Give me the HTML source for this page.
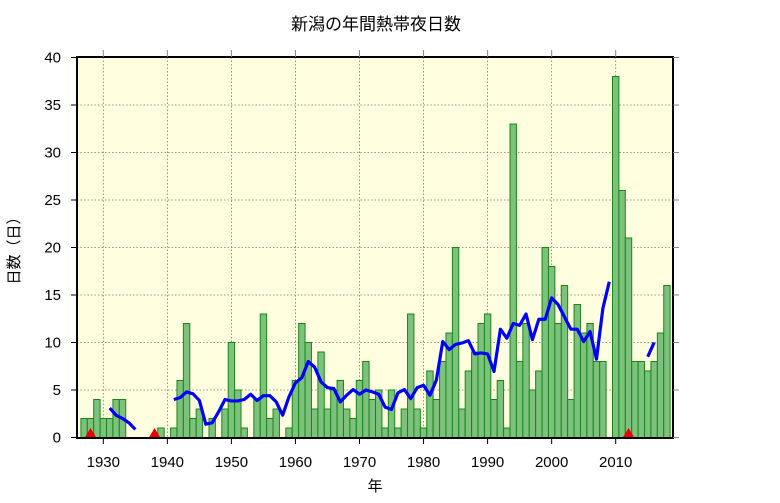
<!DOCTYPE html>
<html><head><meta charset="utf-8"><style>
body{margin:0;background:#fff;}
svg text{font-family:"Liberation Sans","Noto Sans CJK JP",sans-serif;fill:#000;}
</style></head><body>
<svg id="chart" width="780" height="498" viewBox="0 0 780 498" xmlns="http://www.w3.org/2000/svg">
<rect x="77" y="57" width="596" height="381" fill="#ffffe0"/>
<g id="grid"></g>
<g id="bars"></g>
<g id="line"></g>
<g id="marks"></g>
<rect x="77" y="57" width="596" height="381" fill="none" stroke="#000" stroke-width="2"/>
<g id="axes"></g>
<text x="376" y="30" font-size="17" text-anchor="middle">新潟の年間熱帯夜日数</text>
<text x="375" y="491" font-size="15" text-anchor="middle">年</text>
<text x="0" y="0" font-size="15" text-anchor="middle" transform="translate(19,247) rotate(-90)">日数（日）</text>
</svg>
<script>
const years = [1927,1928,1929,1930,1931,1932,1933,1934,1935,1936,1937,1938,1939,1940,1941,1942,1943,1944,1945,1946,1947,1948,1949,1950,1951,1952,1953,1954,1955,1956,1957,1958,1959,1960,1961,1962,1963,1964,1965,1966,1967,1968,1969,1970,1971,1972,1973,1974,1975,1976,1977,1978,1979,1980,1981,1982,1983,1984,1985,1986,1987,1988,1989,1990,1991,1992,1993,1994,1995,1996,1997,1998,1999,2000,2001,2002,2003,2004,2005,2006,2007,2008,2009,2010,2011,2012,2013,2014,2015,2016,2017,2018];
const counts = [2,2,4,2,2,4,4,0,0,0,0,0,1,0,1,6,12,2,3,0,2,0,3,10,5,1,0,4,13,2,3,0,1,6,12,10,3,9,3,5,6,3,2,6,8,4,5,1,5,1,3,13,3,1,7,4,8,11,20,3,7,9,12,13,4,6,1,33,8,12,5,7,20,18,12,16,4,14,11,12,8,8,0,38,26,21,8,8,7,8,11,16];
const avgSegmentYears = [[1931,1932,1933,1934,1935],[1941,1942,1943,1944,1945,1946,1947,1948,1949,1950,1951,1952,1953,1954,1955,1956,1957,1958,1959,1960,1961,1962,1963,1964,1965,1966,1967,1968,1969,1970,1971,1972,1973,1974,1975,1976,1977,1978,1979,1980,1981,1982,1983,1984,1985,1986,1987,1988,1989,1990,1991,1992,1993,1994,1995,1996,1997,1998,1999,2000,2001,2002,2003,2004,2005,2006,2007,2008,2009],[2015,2016]];
const avgSegmentValues = [[3.1,2.35,2.0,1.55,0.85],[4.0,4.2,4.8,4.6,3.9,1.4,1.55,2.7,4.0,3.85,3.85,4.0,4.55,3.9,4.4,4.4,3.75,2.35,4.3,5.75,6.3,8.0,7.4,5.85,5.25,5.15,3.75,4.45,5.05,4.55,5.0,4.8,4.55,3.2,2.95,4.7,5.05,4.1,5.25,5.5,4.45,6.05,10.1,9.25,9.8,9.95,10.2,8.8,8.9,8.8,6.95,11.4,10.45,12.0,11.8,13.0,10.3,12.45,12.45,14.7,14.0,12.7,11.4,11.4,10.1,11.15,8.25,13.6,16.4],[8.5,10.0]];
const markerYears = [1928,1938,2012];
const yTicks = [0,5,10,15,20,25,30,35,40];
const xTicks = [1930,1940,1950,1960,1970,1980,1990,2000,2010];

const NS="http://www.w3.org/2000/svg";
const xPos = y => 103.3 + (y-1930)*6.405;
const yPos = v => 437.5 - v*9.5;
function mk(tag, parent, attrs){const e=document.createElementNS(NS,tag);for(const k in attrs)e.setAttribute(k,attrs[k]);document.getElementById(parent).appendChild(e);return e;}

yTicks.forEach(t=>{
  const y=yPos(t);
  if(t>0&&t<40){const g=mk('line','grid',{x1:77,x2:673,y1:y,y2:y,stroke:'#777','stroke-width':0.8,'stroke-dasharray':'1.5,2'});
  
  }
  const tk=mk('line','axes',{x1:71,x2:77,y1:y,y2:y,stroke:'#000','stroke-width':1});
  
  
  const tr=mk('line','axes',{x1:673,x2:679,y1:y,y2:y,stroke:'#888','stroke-width':1});
  
  
  const l=mk('text','axes',{x:61,y:y+5,'font-size':15,'text-anchor':'end'});
  l.textContent=t;
  
  
});
xTicks.forEach(t=>{
  const x=xPos(t);
  const g=mk('line','grid',{x1:x,x2:x,y1:57,y2:438,stroke:'#777','stroke-width':0.8,'stroke-dasharray':'1.5,2'});
  
  
  const tk=mk('line','axes',{x1:x,x2:x,y1:50,y2:57,stroke:'#888','stroke-width':1});
  
  
  const tb=mk('line','axes',{x1:x,x2:x,y1:438,y2:444,stroke:'#000','stroke-width':1});
  
  
  const l=mk('text','axes',{x:x,y:467,'font-size':15,'text-anchor':'middle'});
  l.textContent=t;
  
  
});
years.forEach((yr,i)=>{
  const v=counts[i]; if(v<=0) return;
  const b=mk('rect','bars',{x:xPos(yr)-3.2,y:yPos(v),width:6.4,height:v*9.5,fill:'#7cc17c',stroke:'#1a861a','stroke-width':1});
  
  
});
avgSegmentYears.forEach((ys,s)=>{
  const pts=ys.map((yr,i)=>xPos(yr)+','+yPos(avgSegmentValues[s][i])).join(' ');
  const p=mk('polyline','line',{points:pts,fill:'none',stroke:'#0000ff','stroke-width':3.2,'stroke-linejoin':'round'});
  
  
});
markerYears.forEach(yr=>{
  const x=xPos(yr);
  const m=mk('polygon','marks',{points:(x-6)+',438 '+(x+6)+',438 '+x+',428',fill:'#ee0000'});
  
  
});
</script>
</body></html>
